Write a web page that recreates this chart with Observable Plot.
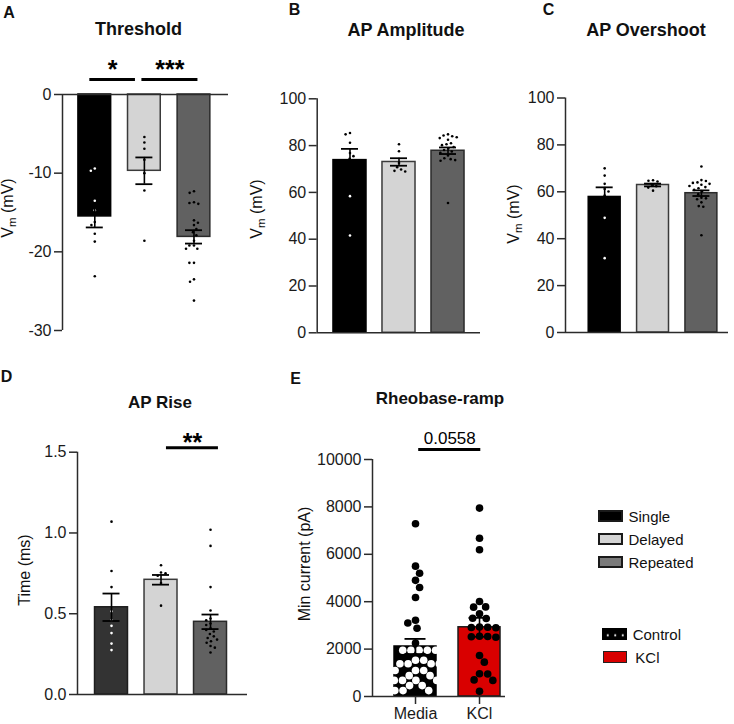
<!DOCTYPE html>
<html>
<head>
<meta charset="utf-8">
<script src="https://cdn.jsdelivr.net/npm/d3@7"></script>
<script src="https://cdn.jsdelivr.net/npm/@observablehq/plot@0.6"></script>
<style>
html, body { margin: 0; padding: 0; background: #fff; }
#fig { position: relative; width: 734px; height: 724px; overflow: hidden; font-family: "Liberation Sans", Arial, Helvetica, sans-serif; color: #111; }
#fig svg { position: absolute; left: 0; top: 0; }
.t { position: absolute; white-space: nowrap; line-height: 1; }
.t sub { font-size: 0.72em; vertical-align: -0.22em; line-height: 0; }
.sw { position: absolute; box-sizing: border-box; }
</style>
</head>
<body>
<div id="fig"></div>
<script>
// ---------------- categories ----------------
const groups = ["Single", "Delayed", "Repeated"];
const rheoGroups = ["Media", "KCl"];
const rheoLegend = ["Control", "KCl"];

// ---------------- A: Threshold (mV) ----------------
const thresholdMean = [-15.5, -9.7, -18.1];
const thresholdSem = [1.4, 1.7, 0.85];
const thresholdSingle = [-9.4, -9.7, -13.5, -14.7, -16.2, -16.6, -17.7, -18.7, -23.1];
const thresholdDelayed = [-5.4, -6.1, -6.9, -8.3, -10.0, -12.2, -18.6];
const thresholdRepeated = [-12.3, -12.5, -13.7, -13.8, -13.9, -16.0, -16.3, -16.6, -17.1, -17.5, -17.9, -18.6, -19.2, -19.2, -19.6, -19.6, -21.4, -21.4, -23.5, -23.8, -26.2];
const thresholdTicks = [0, -10, -20, -30];

// ---------------- B: AP Amplitude (mV) ----------------
const amplitudeMean = [73.8, 73.0, 77.8];
const amplitudeSem = [4.8, 1.6, 1.4];
const amplitudeSingle = [85.4, 84.8, 81.2, 76.8, 75.5, 74.4, 58.4, 41.6];
const amplitudeDelayed = [80.6, 77.6, 72.6, 70.8, 69.8, 69.2, 68.9];
const amplitudeRepeated = [84.8, 84.3, 84.0, 83.6, 83.2, 82.5, 81.0, 80.6, 80.2, 79.4, 78.8, 78.1, 77.5, 76.9, 75.8, 74.6, 74.2, 73.8, 73.5, 55.5];
const amplitudeTicks = [0, 20, 40, 60, 80, 100];

// ---------------- C: AP Overshoot (mV) ----------------
const overshootMean = [57.8, 62.9, 59.4];
const overshootSem = [4.1, 0.6, 1.2];
const overshootSingle = [70.0, 66.9, 63.4, 61.2, 60.1, 58.4, 48.9, 31.7];
const overshootDelayed = [64.9, 64.7, 64.4, 63.0, 62.4, 61.8, 60.5];
const overshootRepeated = [70.8, 65.0, 64.6, 64.0, 63.8, 63.4, 63.0, 62.5, 62.0, 61.5, 60.8, 60.2, 59.0, 57.5, 57.2, 56.8, 55.5, 53.9, 53.6, 41.5];
const overshootTicks = [0, 20, 40, 60, 80, 100];

// ---------------- D: AP Rise (ms) ----------------
const riseMean = [0.54, 0.71, 0.45];
const riseSem = [0.085, 0.03, 0.045];
const riseSingle = [1.07, 0.765, 0.665, 0.515, 0.46, 0.425, 0.38, 0.315, 0.275];
const riseDelayed = [0.80, 0.755, 0.75, 0.735, 0.69, 0.55];
const riseRepeated = [1.02, 0.92, 0.665, 0.52, 0.47, 0.46, 0.44, 0.43, 0.41, 0.40, 0.39, 0.375, 0.36, 0.35, 0.34, 0.33, 0.32, 0.30, 0.29, 0.26];
const riseTicks = [0, 0.5, 1.0, 1.5];

// ---------------- E: Rheobase-ramp (pA) ----------------
const rheoMean = [2110, 2920];
const rheoSem = [320, 400];
const rheoMedia = [7290, 5500, 5200, 4900, 4600, 4180, 3220, 3100, 2880, 2260, 1950, 1950, 1950, 1950, 1950, 1530, 1530, 1380, 1380, 1380, 1380, 1100, 1100, 1100, 880, 880, 680, 680, 680, 680, 460, 460, 250, 250, 250];
const rheoKCl = [7950, 6680, 6190, 4010, 3780, 3770, 3490, 3300, 3290, 2930, 2920, 2910, 2900, 2540, 2530, 2520, 2500, 1730, 1450, 960, 950, 700, 680, 220];
const rheoTicks = [0, 2000, 4000, 6000, 8000, 10000];

// ---------------- significance annotations ----------------
const sigThreshold = [{from: "Single", to: "Delayed", label: "*"}, {from: "Delayed", to: "Repeated", label: "***"}];
const sigRise = [{from: "Delayed", to: "Repeated", label: "**"}];
const sigRheo = [{from: "Media", to: "KCl", label: "0.0558"}];

// ---------------- styles ----------------
const groupFill = ["#000000", "#d4d4d4", "#616161"];
const groupStroke = ["#000000", "#3a3a3a", "#2a2a2a"];
const riseFill = ["#333333", "#d4d4d4", "#616161"];
const riseStroke = ["#1e1e1e", "#3a3a3a", "#2a2a2a"];
const rheoFill = ["#000000", "#d90000"];
const rheoStroke = ["#000000", "#1a1a1a"];
const legendFill = ["#000000", "#d4d4d4", "#7a7a7a"];

const fig = document.getElementById("fig");
const FONT = "'Liberation Sans', Arial, Helvetica, sans-serif";

function swarmOffsets(vals, pxPerUnit, d) {
  const order = vals.map((v, i) => i).sort((a, b) => vals[b] - vals[a]);
  const placed = [], out = new Array(vals.length).fill(0);
  for (const i of order) {
    const y = vals[i] * pxPerUnit;
    const cands = [0];
    for (const p of placed) {
      const dy = Math.abs(p.y - y);
      if (dy < d) { const dx = Math.sqrt(d * d - dy * dy); cands.push(p.x + dx, p.x - dx); }
    }
    const flip = placed.length % 2 ? 1 : -1;
    cands.sort((a, b) => (Math.abs(a) - Math.abs(b)) || flip * (a - b));
    let x = 0;
    for (const c of cands) {
      if (placed.every(p => (p.x - c) ** 2 + (p.y - y) ** 2 >= d * d - 1e-6)) { x = c; break; }
    }
    placed.push({x, y}); out[i] = x;
  }
  return out;
}

function panel(cfg, L) {
  const {cats, means, sems, values, fills, strokes, yDomain, yTicks, yFormat, sig, xAxis} = cfg;
  const [lo, hi] = L.xDomain;
  const pxX = (L.right - L.left) / (hi - lo);
  const pxY = (L.bottom - L.top) / (yDomain[1] - yDomain[0]);
  const bars = cats.map((c, i) => ({i, cat: c, mean: means[i], sem: sems[i], fill: fills[i], stroke: strokes[i]}));
  const points = [];
  values.forEach((vals, i) => {
    const offs = swarmOffsets(vals, pxY, L.gap);
    const dark = d3.hsl(fills[i]).l < 0.3;
    vals.forEach((v, k) => {
      const inside = Math.abs(v) < Math.abs(means[i]) && Math.sign(v) === Math.sign(means[i]);
      points.push({x: i + offs[k] / pxX, v, fill: dark && inside ? "#ffffff" : "#000000"});
    });
  });
  const caps = bars.flatMap(b => [b.mean - b.sem, b.mean + b.sem].map(v => ({i: b.i, v})));
  const capHalf = L.capPx / 2 / pxX;
  const marks = [
    Plot.rectY(bars, {x1: d => d.i - L.hw, x2: d => d.i + L.hw, y1: 0, y2: "mean", fill: "fill", stroke: "stroke", strokeWidth: 1.5}),
    Plot.dot(points, {x: "x", y: "v", r: L.r, fill: "fill", stroke: "none"}),
    Plot.ruleX(bars, {x: "i", y1: d => d.mean - d.sem, y2: d => d.mean + d.sem, stroke: "#000", strokeWidth: 1.6}),
    Plot.ruleY(caps, {y: "v", x1: d => d.i - capHalf, x2: d => d.i + capHalf, stroke: "#000", strokeWidth: 1.8}),
    Plot.ruleX([lo], {y1: yDomain[0], y2: yDomain[1], stroke: "#2b2b2b", strokeWidth: 1.5}),
    Plot.ruleY([0], {x1: lo, x2: hi, stroke: "#2b2b2b", strokeWidth: 1.5}),
    Plot.axisY({ticks: yTicks, tickFormat: yFormat, tickSize: 8, tickPadding: 3, label: null, stroke: "#2b2b2b", strokeWidth: 1.5})
  ];
  if (sig) {
    const sigY = yDomain[1] + L.sigPx / pxY;
    const s = sig.map((d, k) => ({
      label: d.label,
      x1: cats.indexOf(d.from) + L.sigEnds[k][0],
      x2: cats.indexOf(d.to) + L.sigEnds[k][1]
    }));
    marks.push(Plot.ruleY(s, {y: sigY, x1: "x1", x2: "x2", stroke: "#000", strokeWidth: 3}));
    marks.push(Plot.text(s, {x: d => (d.x1 + d.x2) / 2, y: sigY, text: "label", dy: L.sigDy, fontSize: L.sigFont, fontWeight: L.sigWeight, lineAnchor: "bottom", fill: "#000"}));
  }
  if (xAxis) {
    marks.push(Plot.axisX({ticks: cats.map((c, i) => i), tickFormat: i => cats[i], tickSize: 8, tickPadding: 3, label: null, stroke: "#2b2b2b", strokeWidth: 1.5}));
  }
  const svg = Plot.plot({
    width: 734, height: 724,
    marginLeft: L.left, marginRight: 734 - L.right, marginTop: L.top, marginBottom: 724 - L.bottom,
    x: xAxis ? {domain: [lo, hi]} : {domain: [lo, hi], axis: null},
    y: {domain: yDomain},
    color: {type: "identity"},
    style: {background: "transparent", fontFamily: FONT, fontSize: "16px", color: "#1a1a1a", overflow: "visible"},
    marks
  });
  fig.appendChild(svg);
}

const fmtInt = d => String(d);
const fmt1 = d3.format(".1f");

panel({cats: groups, means: thresholdMean, sems: thresholdSem, values: [thresholdSingle, thresholdDelayed, thresholdRepeated],
  fills: groupFill, strokes: groupStroke, yDomain: [-30, 0], yTicks: thresholdTicks, yFormat: fmtInt, sig: sigThreshold},
  {left: 62, right: 228, top: 94, bottom: 330, xDomain: [-0.651, 2.696], hw: 0.33, r: 1.3, gap: 4.6, capPx: 17,
   sigPx: 15, sigDy: -1.5, sigFont: 25, sigWeight: "bold", sigEnds: [[-0.10, -0.18], [-0.05, 0.08]]});

panel({cats: groups, means: amplitudeMean, sems: amplitudeSem, values: [amplitudeSingle, amplitudeDelayed, amplitudeRepeated],
  fills: groupFill, strokes: groupStroke, yDomain: [0, 100], yTicks: amplitudeTicks, yFormat: fmtInt},
  {left: 316.7, right: 480, top: 98.3, bottom: 332.3, xDomain: [-0.669, 2.663], hw: 0.337, r: 1.3, gap: 4.6, capPx: 17});

panel({cats: groups, means: overshootMean, sems: overshootSem, values: [overshootSingle, overshootDelayed, overshootRepeated],
  fills: groupFill, strokes: groupStroke, yDomain: [0, 100], yTicks: overshootTicks, yFormat: fmtInt},
  {left: 565, right: 728, top: 97.5, bottom: 332, xDomain: [-0.81, 2.56], hw: 0.33, r: 1.3, gap: 4.6, capPx: 17});

panel({cats: groups, means: riseMean, sems: riseSem, values: [riseSingle, riseDelayed, riseRepeated],
  fills: riseFill, strokes: riseStroke, yDomain: [0, 1.5], yTicks: riseTicks, yFormat: fmt1, sig: sigRise},
  {left: 77, right: 247, top: 451.7, bottom: 694, xDomain: [-0.687, 2.747], hw: 0.333, r: 1.3, gap: 4.6, capPx: 17,
   sigPx: 4.4, sigDy: 2.7, sigFont: 25, sigWeight: "bold", sigEnds: [[0.11, 0.16]]});

panel({cats: rheoGroups, means: rheoMean, sems: rheoSem, values: [rheoMedia, rheoKCl],
  fills: rheoFill, strokes: rheoStroke, yDomain: [0, 10000], yTicks: rheoTicks, yFormat: fmtInt, sig: sigRheo, xAxis: true},
  {left: 372, right: 505, top: 459, bottom: 696, xDomain: [-0.672, 1.406], hw: 0.328, r: 3.8, gap: 8.2, capPx: 21,
   sigPx: 10, sigDy: -6, sigFont: 17, sigWeight: "normal", sigEnds: [[0.05, 0.02]]});

// ---------------- text ----------------
function label(html, x, y, {size = 16, weight = "normal", anchor = "middle", rotate = 0} = {}) {
  const el = document.createElement("div");
  el.className = "t";
  el.innerHTML = html;
  el.style.left = x + "px"; el.style.top = y + "px";
  el.style.fontSize = size + "px"; el.style.fontWeight = weight;
  const tx = anchor === "middle" ? "-50%" : anchor === "end" ? "-100%" : "0";
  el.style.transform = `translate(${tx}, -50%)` + (rotate ? ` rotate(${rotate}deg)` : "");
  fig.appendChild(el);
}
label("A", 9, 13, {size: 16, weight: "bold"});
label("B", 294.5, 10, {size: 16, weight: "bold"});
label("C", 548.5, 10, {size: 16, weight: "bold"});
label("D", 6.5, 377, {size: 16, weight: "bold"});
label("E", 295.5, 379, {size: 16, weight: "bold"});
label("Threshold", 138.5, 28.5, {size: 18, weight: "bold"});
label("AP Amplitude", 406, 30, {size: 18, weight: "bold"});
label("AP Overshoot", 646, 29.5, {size: 18, weight: "bold"});
label("AP Rise", 160, 402, {size: 17, weight: "bold"});
label("Rheobase-ramp", 440, 398, {size: 17, weight: "bold"});
const vm = "V<sub>m</sub> (mV)";
label(vm, 8, 208, {size: 16, rotate: -90});
label(vm, 257, 209, {size: 16, rotate: -90});
label(vm, 514, 214, {size: 16, rotate: -90});
label("Time (ms)", 25, 570, {size: 16, rotate: -90});
label("Min current (pA)", 305, 564, {size: 16, rotate: -90});

// ---------------- legends ----------------
function swatch(x, yc, w, h, bg, border) {
  const el = document.createElement("div");
  el.className = "sw";
  el.style.left = x + "px"; el.style.top = (yc - h / 2) + "px";
  el.style.width = w + "px"; el.style.height = h + "px";
  el.style.background = bg;
  if (border) el.style.border = border;
  fig.appendChild(el);
}
const legendY = [516, 539, 562];
groups.forEach((g, i) => {
  swatch(598.3, legendY[i], 25, 12.5, legendFill[i], "2px solid #1a1a1a");
  label(g, 628.5, legendY[i], {size: 15, anchor: "start"});
});
const legendEY = [634, 657];
swatch(602.3, legendEY[0], 24.5, 12.5, "radial-gradient(circle, #fff 0 0.8px, transparent 1.3px) 1px 0 / 7.5px 12.5px, #000", "1px solid #000");
label(rheoLegend[0], 632.7, legendEY[0], {size: 15, anchor: "start"});
swatch(603, legendEY[1], 24, 12.5, rheoFill[1], "1.5px solid #222");
label(rheoLegend[1], 635.3, legendEY[1], {size: 15, anchor: "start"});
</script>
</body>
</html>
